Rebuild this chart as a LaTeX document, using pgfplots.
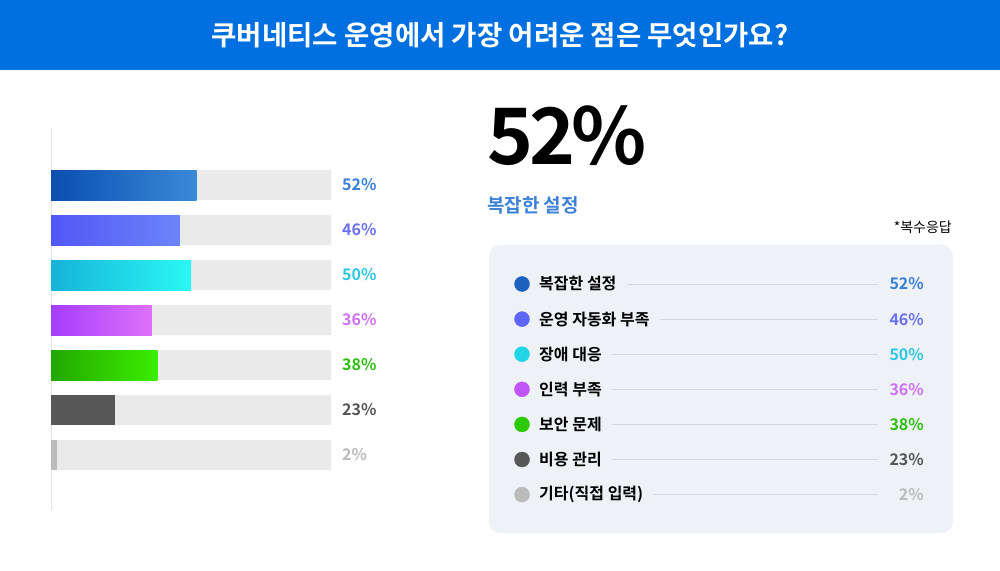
\documentclass[border=0pt]{standalone}
\usepackage{pgfplots}
\pgfplotsset{compat=1.18}
\usepackage{fontspec}
\setmainfont{Noto Sans CJK KR}[BoldFont={Noto Sans CJK KR Bold}]
\definecolor{hdr}{HTML}{0070E0}
\definecolor{track}{HTML}{EAEAEA}
\definecolor{axgrey}{HTML}{E2E2E2}
\definecolor{panel}{HTML}{EEF1F6}
\definecolor{lline}{HTML}{D3D8DF}
\definecolor{subblue}{HTML}{3D82D6}
\definecolor{aA}{HTML}{0B4EB0}\definecolor{aB}{HTML}{3A8AD8}\definecolor{aL}{HTML}{3A7FD5}\definecolor{aM}{HTML}{1E62C0}
\definecolor{bA}{HTML}{5257F7}\definecolor{bB}{HTML}{6C84F8}\definecolor{bL}{HTML}{6A70F0}\definecolor{bM}{HTML}{5E66F5}
\definecolor{cA}{HTML}{17B3D8}\definecolor{cB}{HTML}{2AF8F5}\definecolor{cL}{HTML}{2AC8E0}\definecolor{cM}{HTML}{20D6E6}
\definecolor{dA}{HTML}{A53CFB}\definecolor{dB}{HTML}{DE72FA}\definecolor{dL}{HTML}{D070F5}\definecolor{dM}{HTML}{C055F8}
\definecolor{eA}{HTML}{22A800}\definecolor{eB}{HTML}{3CEE00}\definecolor{eL}{HTML}{2EBF10}\definecolor{eM}{HTML}{2CC800}
\definecolor{fA}{HTML}{575757}\definecolor{fL}{HTML}{555555}
\definecolor{gA}{HTML}{BBBBBB}\definecolor{gL}{HTML}{BBBBBB}
\begin{document}
\begin{tikzpicture}
\useasboundingbox (0pt,0pt) rectangle (1000pt,570pt);
\fill[white] (0pt,0pt) rectangle (1000pt,570pt);
\fill[hdr] (0pt,500pt) rectangle (1000pt,570pt);
\node[white, font=\fontsize{27.5}{30}\selectfont\bfseries] at (500pt,534.5pt) {쿠버네티스 운영에서 가장 어려운 점은 무엇인가요?};
% left bar chart
\begin{axis}[
  at={(51pt,442pt)}, anchor=north west,
  scale only axis, width=280pt, height=382pt,
  xmin=0, xmax=100, ymin=-1.267, ymax=7.222, y dir=reverse,
  axis x line=none, axis y line*=left,
  axis line style={draw=axgrey, line width=1pt},
  xtick=\empty, ytick=\empty,
  xbar, bar width=30pt, bar shift=0pt,
  clip=false,
]
\addplot[fill=track, draw=none] coordinates {(100,0) (100,1) (100,2) (100,3) (100,4) (100,5) (100,6)};
\addplot[draw=none, left color=aA, right color=aB] coordinates {(52,0)};
\addplot[draw=none, left color=bA, right color=bB] coordinates {(46,1)};
\addplot[draw=none, left color=cA, right color=cB] coordinates {(50,2)};
\addplot[draw=none, left color=dA, right color=dB] coordinates {(36,3)};
\addplot[draw=none, left color=eA, right color=eB] coordinates {(38,4)};
\addplot[draw=none, fill=fA] coordinates {(23,5)};
\addplot[draw=none, fill=gA] coordinates {(2,6)};
\begin{scope}[every node/.style={anchor=west, inner sep=0pt, font=\fontsize{16}{18}\selectfont\bfseries}]
\node[text=aL] at (axis cs:103.9,0) {52\%};
\node[text=bL] at (axis cs:103.9,1) {46\%};
\node[text=cL] at (axis cs:103.9,2) {50\%};
\node[text=dL] at (axis cs:103.9,3) {36\%};
\node[text=eL] at (axis cs:103.9,4) {38\%};
\node[text=fL] at (axis cs:103.9,5) {23\%};
\node[text=gL] at (axis cs:103.9,6) {2\%};
\end{scope}
\end{axis}
% headline
\node[anchor=base west, inner sep=0pt, font=\fontsize{78}{84}\selectfont\bfseries] at (487pt,405pt) {5\kern-4pt2\kern-4pt\%};
\node[anchor=west, inner sep=0pt, text=subblue, font=\fontsize{19}{21}\selectfont\bfseries] at (487pt,365pt) {복잡한 설정};
\node[anchor=east, inner sep=0pt, font=\fontsize{14}{16}\selectfont] at (952pt,342.5pt) {*복수응답};
% legend panel
\fill[panel, rounded corners=11pt] (489pt,37pt) rectangle (953pt,325pt);
\begin{axis}[
  at={(489pt,325pt)}, anchor=north west,
  scale only axis, width=464pt, height=288pt,
  xmin=0, xmax=464, ymin=-1.111, ymax=7.094, y dir=reverse,
  hide axis, clip=false,
]
\addplot[only marks, color=aM, mark=*, mark size=7.5pt] coordinates {(33,0)};
\addplot[only marks, color=bM, mark=*, mark size=7.5pt] coordinates {(33,1)};
\addplot[only marks, color=cM, mark=*, mark size=7.5pt] coordinates {(33,2)};
\addplot[only marks, color=dM, mark=*, mark size=7.5pt] coordinates {(33,3)};
\addplot[only marks, color=eM, mark=*, mark size=7.5pt] coordinates {(33,4)};
\addplot[only marks, color=fA, mark=*, mark size=7.5pt] coordinates {(33,5)};
\addplot[only marks, color=gA, mark=*, mark size=7.5pt] coordinates {(33,6)};
\begin{scope}[every node/.style={inner sep=0pt}]
\node[anchor=west, font=\fontsize{16}{18}\selectfont\bfseries] (t0) at (axis cs:50,0) {복잡한 설정};
\node[anchor=west, font=\fontsize{16}{18}\selectfont\bfseries] (t1) at (axis cs:50,1) {운영 자동화 부족};
\node[anchor=west, font=\fontsize{16}{18}\selectfont\bfseries] (t2) at (axis cs:50,2) {장애 대응};
\node[anchor=west, font=\fontsize{16}{18}\selectfont\bfseries] (t3) at (axis cs:50,3) {인력 부족};
\node[anchor=west, font=\fontsize{16}{18}\selectfont\bfseries] (t4) at (axis cs:50,4) {보안 문제};
\node[anchor=west, font=\fontsize{16}{18}\selectfont\bfseries] (t5) at (axis cs:50,5) {비용 관리};
\node[anchor=west, font=\fontsize{16}{18}\selectfont\bfseries] (t6) at (axis cs:50,6) {기타(직접 입력)};
\coordinate (e0) at (axis cs:389,0);
\coordinate (e1) at (axis cs:389,1);
\coordinate (e2) at (axis cs:389,2);
\coordinate (e3) at (axis cs:389,3);
\coordinate (e4) at (axis cs:389,4);
\coordinate (e5) at (axis cs:389,5);
\coordinate (e6) at (axis cs:389,6);
\draw[lline, line width=0.9pt] ([xshift=10pt]t0.east |- e0) -- (e0);
\draw[lline, line width=0.9pt] ([xshift=10pt]t1.east |- e1) -- (e1);
\draw[lline, line width=0.9pt] ([xshift=10pt]t2.east |- e2) -- (e2);
\draw[lline, line width=0.9pt] ([xshift=10pt]t3.east |- e3) -- (e3);
\draw[lline, line width=0.9pt] ([xshift=10pt]t4.east |- e4) -- (e4);
\draw[lline, line width=0.9pt] ([xshift=10pt]t5.east |- e5) -- (e5);
\draw[lline, line width=0.9pt] ([xshift=10pt]t6.east |- e6) -- (e6);
\node[anchor=east, text=aL, font=\fontsize{16}{18}\selectfont\bfseries] at (axis cs:435,0) {52\%};
\node[anchor=east, text=bL, font=\fontsize{16}{18}\selectfont\bfseries] at (axis cs:435,1) {46\%};
\node[anchor=east, text=cL, font=\fontsize{16}{18}\selectfont\bfseries] at (axis cs:435,2) {50\%};
\node[anchor=east, text=dL, font=\fontsize{16}{18}\selectfont\bfseries] at (axis cs:435,3) {36\%};
\node[anchor=east, text=eL, font=\fontsize{16}{18}\selectfont\bfseries] at (axis cs:435,4) {38\%};
\node[anchor=east, text=fL, font=\fontsize{16}{18}\selectfont\bfseries] at (axis cs:435,5) {23\%};
\node[anchor=east, text=gL, font=\fontsize{16}{18}\selectfont\bfseries] at (axis cs:435,6) {2\%};
\end{scope}
\end{axis}
\end{tikzpicture}
\end{document}
